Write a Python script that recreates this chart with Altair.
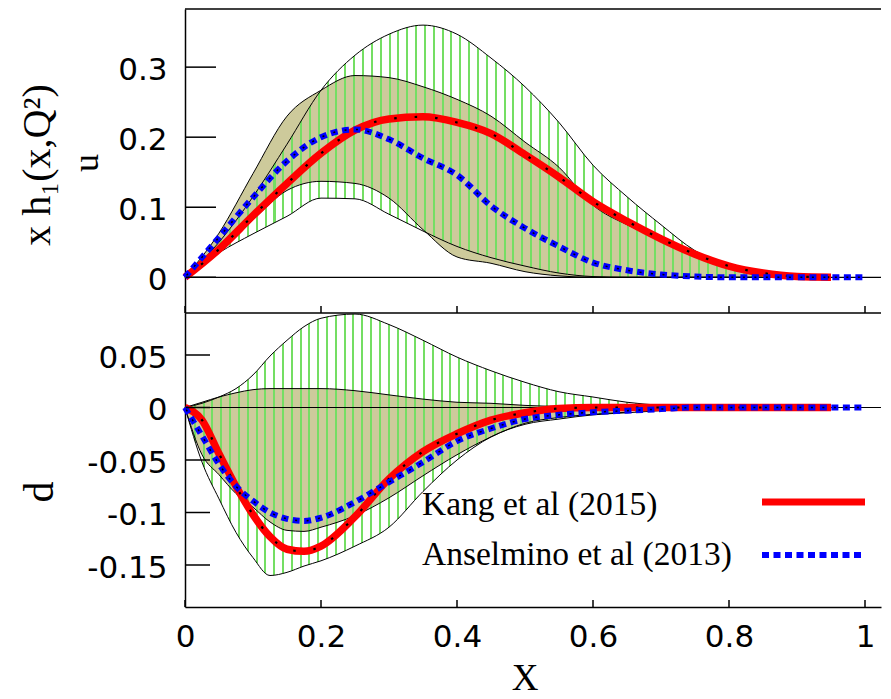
import altair as alt
import pandas as pd

# ---------------- values ----------------
# upper panel: u quark
x_u = [0.0, 0.05, 0.1, 0.15, 0.2, 0.25, 0.3, 0.35, 0.4, 0.45,
       0.5, 0.55, 0.6, 0.65, 0.7, 0.75, 0.8, 0.85, 0.9, 0.95]
kang_u = [0.0, 0.040, 0.088, 0.134, 0.177, 0.210, 0.226, 0.229, 0.221, 0.205,
          0.175, 0.143, 0.108, 0.080, 0.055, 0.033, 0.016, 0.006, 0.001, 0.0]
kang_u_hi = [0.0, 0.050, 0.115, 0.190, 0.267, 0.317, 0.347, 0.360, 0.347, 0.313,
             0.272, 0.221, 0.160, 0.115, 0.075, 0.038, 0.016, 0.006, 0.001, 0.0]
kang_u_lo = [0.0, 0.035, 0.062, 0.087, 0.113, 0.112, 0.090, 0.066, 0.044, 0.028,
             0.016, 0.006, 0.001, 0.0, 0.0, 0.0, 0.0, 0.0, 0.0, 0.0]
x_u_ans = [0.0, 0.05, 0.1, 0.15, 0.2, 0.25, 0.3, 0.35, 0.4, 0.45, 0.5,
           0.55, 0.6, 0.65, 0.7, 0.75, 0.8, 0.85, 0.9, 0.95, 1.0]
ansel_u = [0.0, 0.057, 0.114, 0.166, 0.200, 0.211, 0.197, 0.170, 0.146, 0.102, 0.070,
           0.044, 0.021, 0.010, 0.004, 0.001, 0.0, 0.0, 0.0, 0.0, 0.0]
x_u_ans_band = [0.0, 0.05, 0.1, 0.15, 0.2, 0.25, 0.3, 0.35, 0.4, 0.45,
                0.5, 0.55, 0.6, 0.65, 0.7, 0.75, 0.8, 0.85, 0.9]
ansel_u_hi = [0.0, 0.063, 0.148, 0.230, 0.267, 0.288, 0.285, 0.272, 0.254, 0.230,
              0.193, 0.157, 0.103, 0.075, 0.055, 0.032, 0.013, 0.004, 0.001]
ansel_u_lo = [0.0, 0.035, 0.082, 0.124, 0.137, 0.134, 0.113, 0.068, 0.029, 0.020,
              0.008, 0.002, 0.0, 0.0, 0.0, 0.0, 0.0, 0.0, 0.0]

# lower panel: d quark
x_d = [0.0, 0.025, 0.05, 0.075, 0.1, 0.125, 0.15, 0.175, 0.2, 0.25, 0.3, 0.35,
       0.4, 0.45, 0.5, 0.55, 0.6, 0.65, 0.7, 0.75, 0.8, 0.85, 0.9, 0.95, 1.0]
kang_d = [0.0, -0.012, -0.044, -0.075, -0.102, -0.123, -0.135, -0.137, -0.132,
          -0.104, -0.068, -0.042, -0.025, -0.012, -0.005, -0.001, 0.0, 0.0, 0.0,
          0.0, 0.0, 0.0, 0.0, 0.0]
kang_d_hi = [0.0, 0.004, 0.010, 0.018, 0.031, 0.049, 0.064, 0.077, 0.085,
             0.089, 0.079, 0.064, 0.048, 0.035, 0.024, 0.015, 0.010, 0.005, 0.002]
kang_d_lo = [0.0, -0.052, -0.087, -0.119, -0.143, -0.160, -0.157, -0.151, -0.146,
             -0.132, -0.114, -0.080, -0.050, -0.028, -0.016, -0.011, -0.007, -0.005, -0.003]
ansel_d = [0.0, -0.027, -0.054, -0.075, -0.089, -0.100, -0.106, -0.108, -0.105,
           -0.090, -0.071, -0.052, -0.032, -0.020, -0.011, -0.007, -0.0045, -0.003,
           -0.0015, 0.0, 0.0, 0.0, 0.0, 0.0, 0.0]
ansel_d_hi = [0.0, 0.005, 0.010, 0.014, 0.017, 0.018, 0.018, 0.018, 0.018,
              0.016, 0.012, 0.008, 0.005, 0.004, 0.002, 0.001, 0.0005, 0.0]
ansel_d_lo = [0.0, -0.045, -0.064, -0.082, -0.095, -0.109, -0.117, -0.118, -0.114,
              -0.103, -0.086, -0.065, -0.045, -0.028, -0.015, -0.0095, -0.0065, -0.0045]

u_ticks = [0, 0.1, 0.2, 0.3]
d_ticks = [-0.15, -0.1, -0.05, 0, 0.05]
x_ticks = [0, 0.2, 0.4, 0.6, 0.8, 1]

legend_labels = ["Kang et al (2015)", "Anselmino et al (2013)"]
y_title = "x h\u2081(x,Q\u00b2)"
panel_labels = ["u", "d"]
x_title = "X"

# ---------------- style / layout ----------------
SANS = "DejaVu Sans"
SERIF = "Liberation Serif"
W = 696
PXU = 680.0
X_MAX = W / PXU
H_U, H_D = 304, 294
OLIVE = "#cdca9b"
GREEN = "#74de63"
RED = "#ff0000"
BLUE = "#0000ff"

xs = alt.Scale(domain=[0, X_MAX], nice=False, zero=False)


def one_row(**kw):
    return pd.DataFrame({k: [v] for k, v in kw.items()})


def hatch_fill(x_extent):
    width_px = x_extent * PXU
    spacing = 8.8
    n = max(1, int(round(width_px / spacing)))
    frac = 2.0 / spacing
    stops = []
    for i in range(n):
        a, b, c = i / n, (i + frac) / n, (i + 1) / n
        stops += [
            alt.GradientStop(offset=a, color=GREEN),
            alt.GradientStop(offset=b, color=GREEN),
            alt.GradientStop(offset=b, color="transparent"),
            alt.GradientStop(offset=c, color="transparent"),
        ]
    return alt.LinearGradient(gradient="linear", x1=0, y1=0, x2=1, y2=0, stops=stops)


def text_layer(txt, x, y, size, angle=0, align="center", font=SERIF):
    return alt.Chart(one_row(t=txt)).mark_text(
        font=font, fontSize=size, angle=angle, align=align, baseline="middle", color="black"
    ).encode(text="t:N", x=alt.value(x), y=alt.value(y))


def build_panel(h, ydom, yticks, ytick_len, kband, aband, kline, aline, bottom_axis, extras):
    ys = alt.Scale(domain=ydom, nice=False, zero=False)
    yaxis = alt.Axis(values=yticks, labelExpr="'' + datum.value", ticks=False, tickSize=0, grid=False,
                     domain=True, domainColor="black", domainWidth=1.5, labelFont=SANS, labelFontSize=31,
                     labelColor="black", labelPadding=18, labelOffset=3, labelFlush=False,
                     labelOverlap=False, title=None)
    if bottom_axis:
        xaxis = alt.Axis(values=x_ticks, labelExpr="'' + datum.value", ticks=False, tickSize=0, grid=False,
                         domain=True, domainColor="black", domainWidth=1.5, labelFont=SANS, labelFontSize=31,
                         labelColor="black", labelPadding=15, labelFlush=False, labelOverlap=False,
                         title=None)
    else:
        xaxis = None

    def X(f="x"):
        return alt.X(f"{f}:Q", scale=xs, axis=xaxis)

    def Y(f):
        return alt.Y(f"{f}:Q", scale=ys, axis=yaxis)

    layers = []
    layers.append(alt.Chart(aband).mark_area(fill=OLIVE, interpolate="monotone").encode(
        x=X(), y=Y("hi"), y2="lo:Q"))
    layers.append(alt.Chart(kband).mark_area(fill=hatch_fill(max(kband["x"])), interpolate="monotone").encode(
        x=X(), y=Y("hi"), y2="lo:Q"))
    for band in (aband, kband):
        for col in ("lo", "hi"):
            layers.append(alt.Chart(band).mark_line(color="black", strokeWidth=1, interpolate="monotone").encode(
                x=X(), y=Y(col)))
    layers.append(alt.Chart(one_row(y=0)).mark_rule(color="black", strokeWidth=1.2).encode(
        y=Y("y"), x=alt.value(0), x2=alt.value(W)))
    # Kang (red, with black dots)
    layers.append(alt.Chart(kline).mark_line(color=RED, strokeWidth=7.5, interpolate="monotone").encode(
        x=X(), y=Y("c")))
    layers.append(alt.Chart(kline).mark_line(color="black", strokeWidth=2.2, strokeDash=[2.5, 18],
                                             interpolate="monotone").encode(x=X(), y=Y("c")))
    # Anselmino (blue dotted)
    layers.append(alt.Chart(aline).mark_line(color=BLUE, strokeWidth=6, strokeDash=[7, 4.5],
                                             interpolate="monotone").encode(x=X(), y=Y("c")))
    layers.append(alt.Chart(aline).mark_line(color="black", strokeWidth=1.5, strokeDash=[2, 9.5],
                                             strokeDashOffset=9, interpolate="monotone").encode(
        x=X(), y=Y("c")))
    # y ticks (inward)
    layers.append(alt.Chart(pd.DataFrame({"t": yticks})).mark_rule(color="black", strokeWidth=1.5).encode(
        y=Y("t"), x=alt.value(1), x2=alt.value(1 + ytick_len)))
    # x ticks (inward, at bottom)
    layers.append(alt.Chart(pd.DataFrame({"t": x_ticks})).mark_rule(color="black", strokeWidth=1.5).encode(
        x=X("t"), y=alt.value(h - 7), y2=alt.value(h)))
    layers.extend(extras)
    return alt.layer(*layers).properties(width=W, height=h)


df_u_kb = pd.DataFrame({"x": x_u, "lo": kang_u_lo, "hi": kang_u_hi})
df_u_k = pd.DataFrame({"x": x_u, "c": kang_u})
df_u_a = pd.DataFrame({"x": x_u_ans, "c": ansel_u})
df_u_ab = pd.DataFrame({"x": x_u_ans_band, "lo": ansel_u_lo, "hi": ansel_u_hi})

df_d_k = pd.DataFrame({"x": x_d[:len(kang_d)], "c": kang_d})
df_d_kb = pd.DataFrame({"x": x_d[:len(kang_d_hi)], "lo": kang_d_lo, "hi": kang_d_hi})
df_d_a = pd.DataFrame({"x": x_d[:len(ansel_d)], "c": ansel_d})
df_d_ab = pd.DataFrame({"x": x_d[:len(ansel_d_hi)], "lo": ansel_d_lo, "hi": ansel_d_hi})

top_extras = [
    alt.Chart(one_row(a=0)).mark_rule(color="black", strokeWidth=1.5).encode(
        x=alt.value(0), x2=alt.value(W), y=alt.value(0)),
    alt.Chart(one_row(a=0)).mark_rule(color="black", strokeWidth=1.5).encode(
        x=alt.value(0), x2=alt.value(W), y=alt.value(H_U)),
    alt.Chart(one_row(a=0)).mark_rule(strokeOpacity=0, strokeWidth=1).encode(
        x=alt.value(-177), x2=alt.value(-170), y=alt.value(5)),
    text_layer(y_title, -147, 156, 40, angle=270),
    text_layer(panel_labels[0], -98, 154, 36, angle=270),
]

bottom_extras = [
    text_layer(panel_labels[1], -145, 179, 42, angle=270),
    text_layer(x_title, 340, 366, 37),
    text_layer(legend_labels[0], 237, 192, 33.5, align="left"),
    text_layer(legend_labels[1], 237, 242, 33.5, align="left"),
    alt.Chart(one_row(a=0)).mark_rule(color=RED, strokeWidth=7).encode(
        x=alt.value(577), x2=alt.value(680), y=alt.value(189)),
    alt.Chart(one_row(a=0)).mark_rule(color=BLUE, strokeWidth=6, strokeDash=[7, 4.5]).encode(
        x=alt.value(577), x2=alt.value(679), y=alt.value(242)),
]

top = build_panel(H_U, [-0.051, 0.383], u_ticks, 30, df_u_kb, df_u_ab, df_u_k, df_u_a, False, top_extras)
bottom = build_panel(H_D, [-0.19, 0.09], d_ticks, 24, df_d_kb, df_d_ab, df_d_k, df_d_a, True, bottom_extras)

chart = alt.vconcat(top, bottom, spacing=0, bounds="flush").properties(
    padding={"left": 0, "top": 0, "right": 0, "bottom": 0}
).configure_view(stroke=None)

chart.save("out.html", embed_options={"renderer": "svg", "actions": False})
